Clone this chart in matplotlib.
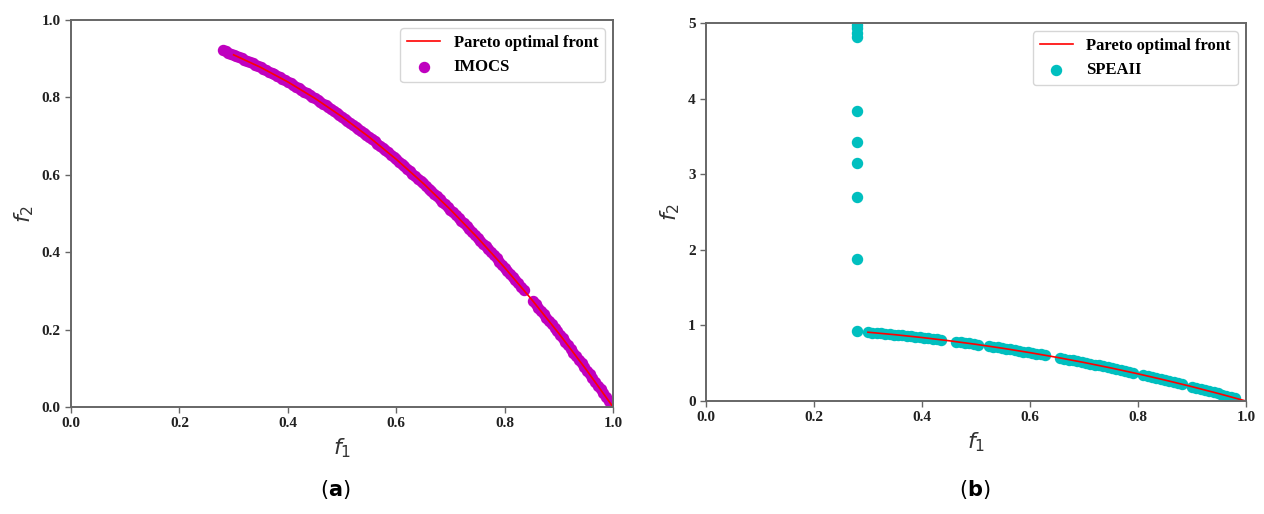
import matplotlib.pyplot as plt

# Pareto optimal front (reference curve)
front_f1 = [0.30, 0.35, 0.40, 0.45, 0.50, 0.55, 0.60, 0.65, 0.70, 0.75, 0.80, 0.85, 0.90, 0.95, 1.00]
front_f2 = [0.9100, 0.8775, 0.8400, 0.7975, 0.7500, 0.6975, 0.6400, 0.5775, 0.5100, 0.4375,
            0.3600, 0.2775, 0.1900, 0.0975, 0.0000]

# IMOCS solutions
imocs_f1 = [0.280, 0.285, 0.290, 0.295, 0.300, 0.305, 0.310, 0.315, 0.320, 0.325, 0.330, 0.335,
            0.340, 0.345, 0.350, 0.355, 0.360, 0.365, 0.370, 0.375, 0.380, 0.385, 0.390, 0.395,
            0.400, 0.405, 0.410, 0.415, 0.420, 0.425, 0.430, 0.435, 0.440, 0.445, 0.450, 0.455,
            0.460, 0.465, 0.470, 0.475, 0.480, 0.485, 0.490, 0.495, 0.500, 0.505, 0.510, 0.515,
            0.520, 0.525, 0.530, 0.535, 0.540, 0.545, 0.550, 0.555, 0.560, 0.565, 0.570, 0.575,
            0.580, 0.585, 0.590, 0.595, 0.600, 0.605, 0.610, 0.615, 0.620, 0.625, 0.630, 0.635,
            0.640, 0.645, 0.650, 0.655, 0.660, 0.665, 0.670, 0.675, 0.680, 0.685, 0.690, 0.695,
            0.700, 0.705, 0.710, 0.715, 0.720, 0.725, 0.730, 0.735, 0.740, 0.745, 0.750, 0.755,
            0.760, 0.765, 0.770, 0.775, 0.780, 0.785, 0.790, 0.795, 0.800, 0.805, 0.810, 0.815,
            0.820, 0.825, 0.830, 0.835,
            0.852, 0.857, 0.862, 0.867, 0.872, 0.877, 0.882, 0.887, 0.892, 0.897, 0.902, 0.907,
            0.912, 0.917, 0.922, 0.927, 0.932, 0.937, 0.942, 0.947, 0.952, 0.957, 0.962, 0.967,
            0.972, 0.977, 0.982, 0.987, 0.992, 0.997]
imocs_f2 = [0.9216, 0.9188, 0.9159, 0.9130, 0.9100, 0.9070, 0.9039, 0.9008, 0.8976, 0.8944, 0.8911, 0.8878,
            0.8844, 0.8810, 0.8775, 0.8740, 0.8704, 0.8668, 0.8631, 0.8594, 0.8556, 0.8518, 0.8479, 0.8440,
            0.8400, 0.8360, 0.8319, 0.8278, 0.8236, 0.8194, 0.8151, 0.8108, 0.8064, 0.8020, 0.7975, 0.7930,
            0.7884, 0.7838, 0.7791, 0.7744, 0.7696, 0.7648, 0.7599, 0.7550, 0.7500, 0.7450, 0.7399, 0.7348,
            0.7296, 0.7244, 0.7191, 0.7138, 0.7084, 0.7030, 0.6975, 0.6920, 0.6864, 0.6808, 0.6751, 0.6694,
            0.6636, 0.6578, 0.6519, 0.6460, 0.6400, 0.6340, 0.6279, 0.6218, 0.6156, 0.6094, 0.6031, 0.5968,
            0.5904, 0.5840, 0.5775, 0.5710, 0.5644, 0.5578, 0.5511, 0.5444, 0.5376, 0.5308, 0.5239, 0.5170,
            0.5100, 0.5030, 0.4959, 0.4888, 0.4816, 0.4744, 0.4671, 0.4598, 0.4524, 0.4450, 0.4375, 0.4300,
            0.4224, 0.4148, 0.4071, 0.3994, 0.3916, 0.3838, 0.3759, 0.3680, 0.3600, 0.3520, 0.3439, 0.3358,
            0.3276, 0.3194, 0.3111, 0.3028,
            0.2741, 0.2656, 0.2570, 0.2483, 0.2396, 0.2309, 0.2221, 0.2132, 0.2043, 0.1954, 0.1864, 0.1774,
            0.1683, 0.1591, 0.1499, 0.1407, 0.1314, 0.1220, 0.1126, 0.1032, 0.0937, 0.0842, 0.0746, 0.0649,
            0.0552, 0.0455, 0.0357, 0.0258, 0.0159, 0.0060]

# SPEAII solutions: stray points stacked at f1 = 0.28, then the clusters on the front
spea_f1 = [0.280, 0.280, 0.280, 0.280, 0.280, 0.280, 0.280, 0.280, 0.280, 0.280,
           0.300, 0.308, 0.316, 0.324, 0.332, 0.340, 0.348, 0.356, 0.364, 0.372, 0.380, 0.388,
           0.396, 0.404, 0.412, 0.420, 0.428, 0.436,
           0.464, 0.472, 0.480, 0.488, 0.496, 0.504,
           0.524, 0.532, 0.540, 0.548, 0.556, 0.564, 0.572, 0.580, 0.588, 0.596, 0.604, 0.612,
           0.620, 0.628,
           0.656, 0.664, 0.672, 0.680, 0.688, 0.696, 0.704, 0.712, 0.720, 0.728, 0.736, 0.744,
           0.752, 0.760, 0.768, 0.776, 0.784, 0.790,
           0.810, 0.818, 0.826, 0.834, 0.842, 0.850, 0.858, 0.866, 0.874, 0.882,
           0.900, 0.908, 0.916, 0.924, 0.932, 0.940, 0.948, 0.956, 0.964, 0.972, 0.980]
spea_f2 = [0.9216, 1.88, 2.70, 3.15, 3.43, 3.83, 4.82, 4.87, 4.93, 4.97,
           0.9100, 0.9051, 0.9001, 0.8950, 0.8898, 0.8844, 0.8789, 0.8733, 0.8675, 0.8616, 0.8556, 0.8495,
           0.8432, 0.8368, 0.8303, 0.8236, 0.8168, 0.8099,
           0.7847, 0.7772, 0.7696, 0.7619, 0.7540, 0.7460,
           0.7254, 0.7170, 0.7084, 0.6997, 0.6909, 0.6819, 0.6728, 0.6636, 0.6543, 0.6448, 0.6352, 0.6255,
           0.6156, 0.6056,
           0.5697, 0.5591, 0.5484, 0.5376, 0.5267, 0.5156, 0.5044, 0.4931, 0.4816, 0.4700, 0.4583, 0.4465,
           0.4345, 0.4224, 0.4102, 0.3978, 0.3853, 0.3759,
           0.3439, 0.3309, 0.3177, 0.3044, 0.2910, 0.2775, 0.2638, 0.2500, 0.2361, 0.2221,
           0.1900, 0.1755, 0.1609, 0.1462, 0.1314, 0.1164, 0.1013, 0.0861, 0.0707, 0.0552, 0.0396]

tick_font = {'family': 'Liberation Serif', 'weight': 'bold', 'size': 11}
legend_font = {'family': 'Liberation Serif', 'weight': 'bold', 'size': 12}


def style_axes(ax):
    for sp in ax.spines.values():
        sp.set_color('#666666')
        sp.set_linewidth(1.4)
    ax.tick_params(colors='#666666', labelcolor='#222222', length=4, width=1)
    for lbl in ax.get_xticklabels() + ax.get_yticklabels():
        lbl.set_fontproperties(tick_font)
    ax.set_xlabel(r'$f_1$', fontsize=16, color='#333333')
    ax.set_ylabel(r'$f_2$', fontsize=16, color='#333333')


fig = plt.figure(figsize=(12.64, 5.14), dpi=100)
ax1 = fig.add_axes([0.0562, 0.2082, 0.4288, 0.7529])
ax2 = fig.add_axes([0.5585, 0.2198, 0.4272, 0.7354])

# (a) IMOCS
ax1.scatter(imocs_f1, imocs_f2, s=52, c='m', label='IMOCS')
ax1.plot(front_f1, front_f2, color='r', lw=1.2, label='Pareto optimal front')
ax1.set_xlim(0, 1)
ax1.set_ylim(0, 1)
ax1.set_xticks([0.0, 0.2, 0.4, 0.6, 0.8, 1.0])
ax1.set_yticks([0.0, 0.2, 0.4, 0.6, 0.8, 1.0])
style_axes(ax1)
h, l = ax1.get_legend_handles_labels()
ax1.legend(h[::-1], l[::-1], loc='upper right', prop=legend_font)

# (b) SPEAII
ax2.scatter(spea_f1, spea_f2, s=52, c='c', label='SPEAII')
ax2.plot(front_f1, front_f2, color='r', lw=1.2, label='Pareto optimal front')
ax2.set_xlim(0, 1)
ax2.set_ylim(0, 5)
ax2.set_xticks([0.0, 0.2, 0.4, 0.6, 0.8, 1.0])
ax2.set_yticks([0, 1, 2, 3, 4, 5])
style_axes(ax2)
h, l = ax2.get_legend_handles_labels()
ax2.legend(h[::-1], l[::-1], loc='upper right', prop=legend_font)

fig.text(0.265, 0.047, r'($\mathbf{a}$)', ha='center', va='center', fontsize=15)
fig.text(0.771, 0.047, r'($\mathbf{b}$)', ha='center', va='center', fontsize=15)

fig.savefig('out.png', dpi=100)
